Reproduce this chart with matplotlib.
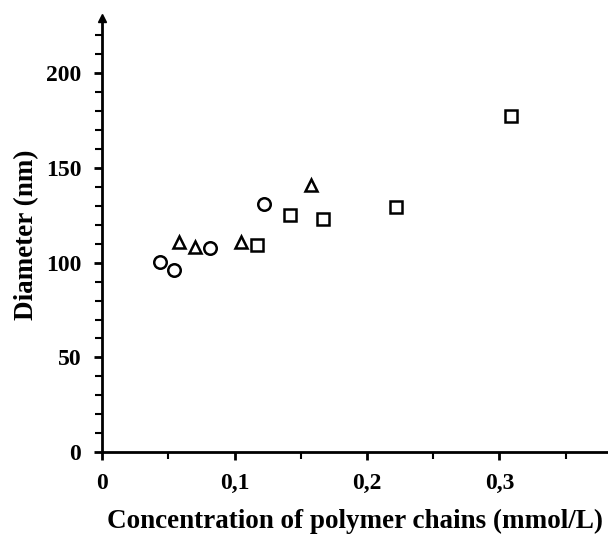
import matplotlib
matplotlib.use('Agg')
import matplotlib.pyplot as plt
from matplotlib.ticker import MultipleLocator, FuncFormatter

# circles
circle_x = [0.044, 0.054, 0.0815, 0.122]
circle_y = [100.3, 96.0, 108.0, 131.2]
# triangles
tri_x = [0.058, 0.070, 0.105, 0.158]
tri_y = [111.0, 108.5, 111.0, 141.0]
# squares
sq_x = [0.117, 0.142, 0.167, 0.222, 0.309]
sq_y = [109.5, 125.1, 122.8, 129.4, 177.5]

x_ticks = [0, 0.1, 0.2, 0.3]
y_ticks = [0, 50, 100, 150, 200]

plt.rcParams['font.family'] = ['Liberation Serif', 'DejaVu Serif']
plt.rcParams['font.weight'] = 'bold'

fig = plt.figure(figsize=(6.08, 5.37), dpi=100)
ax = fig.add_axes([0.168, 0.158, 0.832, 0.808])

mk = dict(linestyle='none', markerfacecolor='white', markeredgecolor='black',
          markeredgewidth=1.8, clip_on=False)
ax.plot(circle_x, circle_y, marker='o', markersize=9, **mk)
ax.plot(tri_x, tri_y, marker='^', markersize=8.5, **mk)
ax.plot(sq_x, sq_y, marker='s', markersize=8.5, **mk)

ax.set_xlim(0, 0.382)
ax.set_ylim(0, 229)
ax.set_xticks(x_ticks)
ax.set_yticks(y_ticks)
ax.xaxis.set_minor_locator(MultipleLocator(0.05))
ax.yaxis.set_minor_locator(MultipleLocator(10))
ax.xaxis.set_major_formatter(FuncFormatter(lambda v, p: '0' if v == 0 else f'{v:.1f}'.replace('.', ',')))

for s in ['top', 'right']:
    ax.spines[s].set_visible(False)
for s in ['left', 'bottom']:
    ax.spines[s].set_linewidth(2)

ax.tick_params(axis='both', which='major', length=6, width=2, labelsize=17, direction='out')
ax.tick_params(axis='both', which='minor', length=5, width=1.5, direction='out')
ax.tick_params(axis='x', which='major', pad=9)
ax.tick_params(axis='y', which='major', pad=9)

# arrow head at top of y axis
ax.plot(0, 1.0, marker='^', color='black', markersize=6, transform=ax.get_xaxis_transform(),
        clip_on=False)

ax.set_xlabel('Concentration of polymer chains (mmol/L)', fontsize=19.5, fontweight='bold', labelpad=11)
ax.set_ylabel('Diameter (nm)', fontsize=19.5, fontweight='bold', labelpad=5)

fig.savefig('out.png', dpi=100)
